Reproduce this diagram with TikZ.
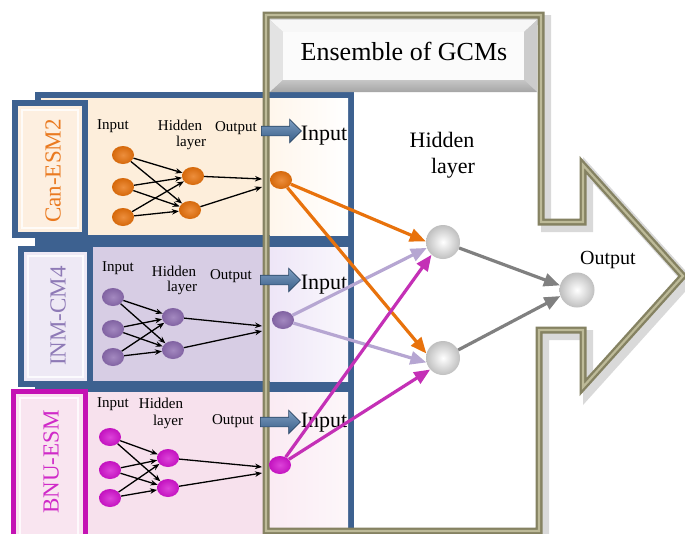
\documentclass[tikz,border=0pt]{standalone}
\usepackage{fontspec}
\setmainfont{Liberation Serif}
\usetikzlibrary{shapes.arrows,shapes.geometric,arrows.meta,shadings}
\definecolor{panelblue}{HTML}{3D6190}
\definecolor{khaki}{HTML}{858262}
\definecolor{khakil}{HTML}{BDBA98}
\definecolor{pA}{HTML}{FDEEDB}
\definecolor{pAl}{HTML}{FFF6EC}
\definecolor{pB}{HTML}{D7CDE4}
\definecolor{pBl}{HTML}{EEE6F7}
\definecolor{pC}{HTML}{F7E1ED}
\definecolor{pCl}{HTML}{FAEBF3}
\definecolor{lA}{HTML}{FDEFE0}
\definecolor{lB}{HTML}{EEE9F5}
\definecolor{lC}{HTML}{F9E5F0}
\definecolor{orA}{HTML}{E8720C}
\definecolor{puB}{HTML}{8C6BB0}
\definecolor{laB}{HTML}{B6A6D2}
\definecolor{maC}{HTML}{D414D0}
\definecolor{maCa}{HTML}{C430B6}
\definecolor{fatblue}{HTML}{4674A8}
\definecolor{magframe}{HTML}{C412B4}
\definecolor{txA}{HTML}{EA7A20}
\definecolor{txB}{HTML}{8E7AB6}
\definecolor{txC}{HTML}{D02AC8}
\begin{document}
\begin{tikzpicture}[x=1pt,y=-1pt,
  every node/.style={inner sep=0pt},
  lbl/.style={font=\fontsize{15}{17}\selectfont},
  biglbl/.style={font=\fontsize{22}{24}\selectfont},
  modlbl/.style={rotate=90,font=\fontsize{23}{25}\selectfont},
  smallnode/.style={ellipse, minimum width=22pt, minimum height=18pt, inner color=#1!80!white, outer color=#1!92!black},
  bignode/.style={circle, minimum size=34pt, inner color=white, outer color=gray!50},
  narr/.style={-{Stealth[length=7pt,width=5.5pt]}, line width=1.3pt, black},
  carr/.style={-{Triangle[length=16pt,width=13pt]}, line width=3.2pt},
  fatarrow/.style={single arrow, inner sep=4.5pt, single arrow head extend=7pt, minimum height=40pt, top color=fatblue!70!white, bottom color=fatblue!80!black, draw=fatblue!60!black, line width=0.6pt},
  panelframe/.style={draw=panelblue, line width=6pt},
]
\path[use as bounding box] (0,0) rectangle (685,533);
\clip (0,0) rectangle (685,533);
\fill[white] (0,0) rectangle (685,533);

% shadow of the big ensemble outline
\draw[black, opacity=0.15, line width=10pt, line join=miter]
  (271,20) -- (546,20) -- (546,227) -- (588,227) -- (588,170) -- (688,281) -- (588,392) -- (588,335) -- (544,335) -- (544,536) -- (271,536) -- cycle;

% panels
\draw[panelframe, fill=pA] (38,95) rectangle (351,238);
\fill[left color=pAl, right color=white] (270,98) rectangle (348,235);
\draw[panelframe, fill=pB] (38,244) rectangle (351,384);
\fill[left color=pBl, right color=white!70!pBl] (270,247) rectangle (348,381);
\draw[panelframe, fill=pC] (38,389) rectangle (351,545);
\fill[left color=pCl, right color=white!60!pCl] (270,392) rectangle (348,540);

% label boxes
\draw[panelframe, fill=lA] (15,103) rectangle (85,235);
\draw[white, line width=2pt, opacity=0.8] (22,110) rectangle (78,228);
\node[modlbl, text=txA] (labA) at (53,171) {Can-ESM2};
\draw[panelframe, fill=lB] (21,249) rectangle (90,384);
\draw[white, line width=2pt, opacity=0.8] (28,256) rectangle (83,377);
\node[modlbl, text=txB] (labB) at (58,316) {INM-CM4};
\draw[draw=magframe, line width=5pt, fill=lC] (13,391) rectangle (85,540);
\draw[white, line width=2pt, opacity=0.8] (20,398) rectangle (78,535);
\node[modlbl, text=txC] (labC) at (51,462) {BNU-ESM};

% big ensemble outline
\draw[khaki, line width=7pt, line join=miter]
  (266,15) -- (541,15) -- (541,222) -- (583,222) -- (583,165) -- (683,276) -- (583,387) -- (583,330) -- (539,330) -- (539,531) -- (266,531) -- cycle;
\draw[khakil, line width=2.2pt, line join=miter]
  (266,15) -- (541,15) -- (541,222) -- (583,222) -- (583,165) -- (683,276) -- (583,387) -- (583,330) -- (539,330) -- (539,531) -- (266,531) -- cycle;

% Ensemble box (bevelled)
\fill[gray!45] (270,20) rectangle (537,92);
\fill[gray!6] (270,20) -- (537,20) -- (524,32) -- (283,32) -- cycle;
\fill[gray!22] (270,20) -- (283,32) -- (283,80) -- (270,92) -- cycle;
\fill[gray!40] (537,20) -- (537,92) -- (524,80) -- (524,32) -- cycle;
\shade[top color=gray!45, bottom color=gray!70] (270,92) -- (537,92) -- (524,80) -- (283,80) -- cycle;
\fill[gray!3] (283,32) rectangle (524,80);
\node[font=\fontsize{26}{28}\selectfont] (ens) at (404,51) {Ensemble of GCMs};

% panel texts
\node[lbl] (tA1) at (113,126) {Input};
\node[lbl] (tA2) at (180,125) {Hidden};
\node[lbl] (tA3) at (191,143) {layer};
\node[lbl] (tA4) at (236,128) {Output};
\node[fatarrow] (fA) at (279,131) {};
\node[biglbl] (iA) at (324,136) {Input};

\node[lbl] (tB1) at (118,268) {Input};
\node[lbl] (tB2) at (174,271) {Hidden};
\node[lbl] (tB3) at (182,288) {layer};
\node[lbl] (tB4) at (231,276) {Output};
\node[fatarrow] (fB) at (278,280) {};
\node[biglbl] (iB) at (324,285) {Input};

\node[lbl] (tC1) at (113,404) {Input};
\node[lbl] (tC2) at (161,403) {Hidden};
\node[lbl] (tC3) at (168,422) {layer};
\node[lbl] (tC4) at (233,421) {Output};
\node[fatarrow] (fC) at (278,422) {};
\node[biglbl] (iC) at (324,423) {Input};

\node[biglbl] (rH1) at (442,140) {Hidden};
\node[biglbl] (rH2) at (453,168) {layer};
\node[font=\fontsize{20}{22}\selectfont] (rO) at (608,260) {Output};

% small network A
\node[smallnode=orA] (a1) at (123,155) {};
\node[smallnode=orA] (a2) at (123,187) {};
\node[smallnode=orA] (a3) at (123,217) {};
\node[smallnode=orA] (ah1) at (193,176) {};
\node[smallnode=orA] (ah2) at (190,210) {};
\node[smallnode=orA] (ao) at (281,180) {};
\coordinate (ae1) at (262,179);
\coordinate (ae2) at (262,187);
\foreach \i in {a1,a2,a3} {\foreach \h in {ah1,ah2} {\draw[narr] (\i) -- (\h);}}
\draw[narr] (ah1) -- (ae1);
\draw[narr] (ah2) -- (ae2);

% small network B
\node[smallnode=puB] (b1) at (113,297) {};
\node[smallnode=puB] (b2) at (113,329) {};
\node[smallnode=puB] (b3) at (113,357) {};
\node[smallnode=puB] (bh1) at (173,317) {};
\node[smallnode=puB] (bh2) at (173,350) {};
\node[smallnode=puB] (bo) at (283,320) {};
\coordinate (be1) at (262,326);
\coordinate (be2) at (262,331);
\foreach \i in {b1,b2,b3} {\foreach \h in {bh1,bh2} {\draw[narr] (\i) -- (\h);}}
\draw[narr] (bh1) -- (be1);
\draw[narr] (bh2) -- (be2);

% small network C
\node[smallnode=maC] (c1) at (110,437) {};
\node[smallnode=maC] (c2) at (110,470) {};
\node[smallnode=maC] (c3) at (110,498) {};
\node[smallnode=maC] (ch1) at (168,458) {};
\node[smallnode=maC] (ch2) at (168,488) {};
\node[smallnode=maC] (co) at (280,465) {};
\coordinate (ce1) at (262,467);
\coordinate (ce2) at (262,473);
\foreach \i in {c1,c2,c3} {\foreach \h in {ch1,ch2} {\draw[narr] (\i) -- (\h);}}
\draw[narr] (ch1) -- (ce1);
\draw[narr] (ch2) -- (ce2);

% ensemble network
\node[bignode] (H1) at (443,242) {};
\node[bignode] (H2) at (443,358) {};
\node[bignode, minimum size=35pt] (O) at (577,290) {};

\draw[carr, laB] (bo) -- (H1.200);
\draw[carr, laB] (bo) -- (H2.195);
\draw[carr, orA] (ao) -- (H1.178);
\draw[carr, orA] (ao) -- (H2.165);
\draw[carr, maCa] (co) -- (H1.228);
\draw[carr, maCa] (co) -- (H2.222);
\draw[carr, gray] (H1) -- (O.165);
\draw[carr, gray] (H2) -- (O.200);
\end{tikzpicture}
\end{document}
